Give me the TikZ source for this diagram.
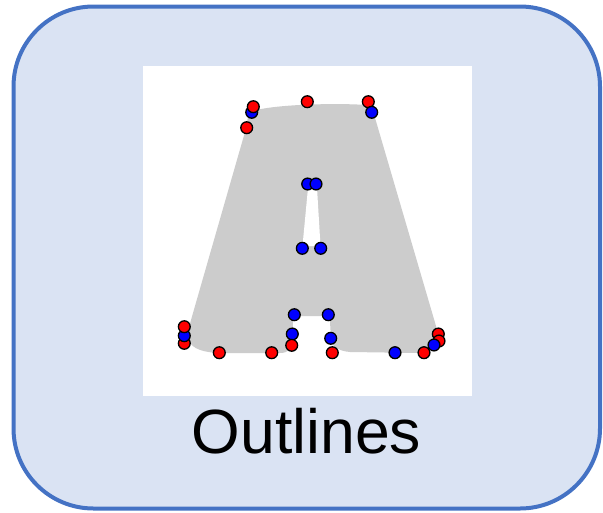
\documentclass[tikz,border=0pt]{standalone}
\usepackage{fontspec}
\setmainfont{Liberation Sans}
\definecolor{panelfill}{HTML}{DAE3F3}
\definecolor{panelline}{HTML}{4472C4}
\definecolor{glyphgray}{HTML}{CCCCCC}
\tikzset{
  panel/.style={draw=panelline, fill=panelfill, line width=4pt, rounded corners=80pt},
  canvas/.style={fill=white},
  glyph/.style={fill=glyphgray},
  oncurve/.style={fill=red, draw=black, line width=1.3pt},
  offcurve/.style={fill=blue, draw=black, line width=1.3pt},
}
\newcommand{\onpt}[1]{\draw[oncurve] #1 circle[radius=5.9pt];}
\newcommand{\offpt}[1]{\draw[offcurve] #1 circle[radius=5.9pt];}
\begin{document}
\begin{tikzpicture}[x=1pt, y=-1pt]
  \useasboundingbox (0,0) rectangle (603,512);
  % rounded panel
  \draw[panel] (13.5,6.5) rectangle (600,508.5);
  % white canvas behind the glyph
  \fill[canvas] (143,66) rectangle (472,396);
  % letter A outline, filled
  \fill[glyph]
    (247,125) .. controls (247,118) and (249,113) .. (253,111)
    .. controls (275,104) and (340,103) .. (366,105)
    .. controls (370,106) and (372,108) .. (373,111)
    -- (436,326)
    .. controls (439,340) and (434,352) .. (420,353)
    -- (350,352)
    .. controls (338,351) and (331,346) .. (331,338)
    -- (330,322)
    .. controls (330,318) and (327,316) .. (322,316)
    -- (301,316)
    .. controls (296,316) and (293,318) .. (293,322)
    -- (292,341)
    .. controls (292,349) and (288,353) .. (280,353)
    -- (222,353)
    .. controls (205,353) and (191,349) .. (189,340)
    .. controls (188,333) and (189,327) .. (191,320)
    -- cycle;
  % counter of the A
  \fill[white] (308,188) -- (317,188) -- (320.5,246) -- (302.5,246) -- cycle;
  % control points
  \offpt{(251.7,112.3)}
  \onpt{(253.3,106.7)}
  \onpt{(246.7,127.7)}
  \onpt{(307.3,101.7)}
  \onpt{(368.3,101.7)}
  \offpt{(371.7,112.3)}
  \offpt{(307.7,184)}
  \offpt{(316,184)}
  \offpt{(302.3,248.3)}
  \offpt{(320.7,248.3)}
  \offpt{(294.3,314.7)}
  \offpt{(328.3,314.7)}
  \offpt{(292.3,334)}
  \offpt{(330.7,338.3)}
  \onpt{(291.7,345.3)}
  \onpt{(332.3,352.7)}
  \onpt{(184.3,343.3)}
  \offpt{(184.3,335.7)}
  \onpt{(184.3,326.7)}
  \onpt{(219.3,352.7)}
  \onpt{(271.7,352.7)}
  \offpt{(395,352.7)}
  \onpt{(424,352.7)}
  \onpt{(438.3,334)}
  \onpt{(439,341)}
  \offpt{(434,345)}
  % caption
  \node[anchor=base, inner sep=0pt, font=\fontsize{62.5}{70}\selectfont] (caption) at (306.5,453) {Outlines};
\end{tikzpicture}
\end{document}
